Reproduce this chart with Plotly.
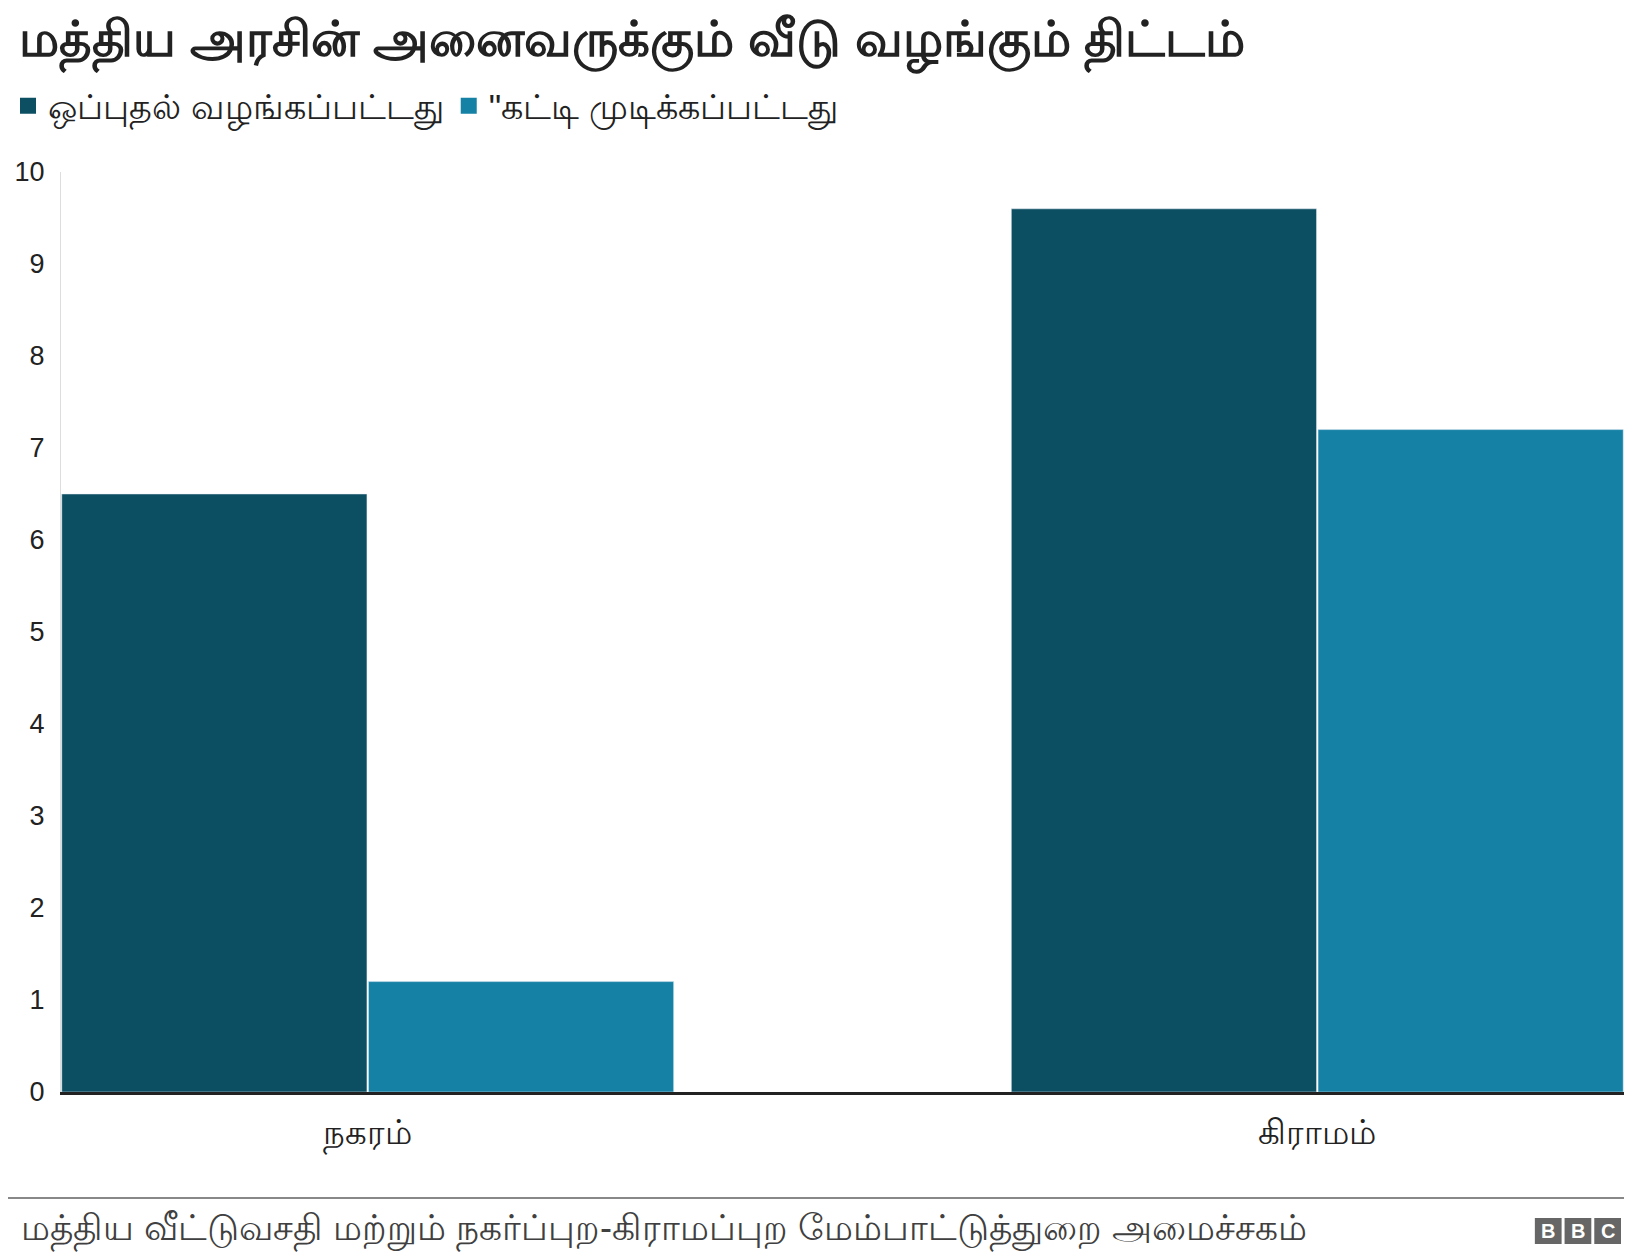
import plotly.graph_objects as go

categories = ["நகரம்", "கிராமம்"]
approved = [6.5, 9.6]
completed = [1.2, 7.2]
series_names = ["ஒப்புதல் வழங்கப்பட்டது", "\"கட்டி முடிக்கப்பட்டது"]
colors = ["#0c4f62", "#1581a5"]
title = "மத்திய அரசின் அனைவருக்கும் வீடு வழங்கும் திட்டம்"
source = "மத்திய வீட்டுவசதி மற்றும் நகர்ப்புற-கிராமப்புற மேம்பாட்டுத்துறை அமைச்சகம்"

W, H = 1616, 1254
L, R, T, B = 38, 0, 164, 170
FONT = "Liberation Sans, Noto Sans, sans-serif"

fig = go.Figure()
for name, vals, c in zip(series_names, [approved, completed], colors):
    fig.add_bar(x=categories, y=vals, name=name, marker_color=c, showlegend=False)
    fig.add_scatter(x=[None], y=[None], mode="markers", name=name,
                    marker=dict(symbol="square", size=26, color=c))

def px(x): return (x - L) / (W - L - R)
def py(y): return (H - B - y) / (H - T - B)

shapes = [dict(type="line", xref="paper", yref="paper", x0=px(-20), x1=px(W), y0=py(1190), y1=py(1190),
               line=dict(color="#888", width=2))]
anns = [
    dict(text=f"<b>{title}</b>", x=px(-6), y=py(34), xref="paper", yref="paper", xanchor="left", yanchor="middle",
         showarrow=False, font=dict(size=50, color="#222")),
    dict(text=source, x=px(-4), y=py(1221), xref="paper", yref="paper", xanchor="left", yanchor="middle",
         showarrow=False, font=dict(size=36, color="#404040")),
]
for i, letter in enumerate("BBC"):
    x0 = 1526 + i * 30
    shapes.append(dict(type="rect", xref="paper", yref="paper", x0=px(x0), x1=px(x0 + 27),
                       y0=py(1236), y1=py(1210), fillcolor="#666", line=dict(width=0), layer="below"))
    anns.append(dict(text=f"<b>{letter}</b>", x=px(x0 + 13.5), y=py(1223), xref="paper", yref="paper",
                     xanchor="center", yanchor="middle",
                     showarrow=False, font=dict(size=20, color="white")))

fig.update_layout(
    width=W, height=H, margin=dict(l=L, r=R, t=T, b=B),
    paper_bgcolor="white", plot_bgcolor="rgba(0,0,0,0)",
    font=dict(family=FONT, size=26, color="#222"),
    barmode="group", bargap=0.354, bargroupgap=0.005,
    legend=dict(orientation="h", x=px(-16), y=py(98), xanchor="left", yanchor="middle",
                font=dict(size=35), itemwidth=30, traceorder="normal"),
    xaxis=dict(showline=True, linecolor="#222", linewidth=3, ticks="", tickfont=dict(size=34),
               ticklabelstandoff=8, range=[-0.323, 1.323]),
    yaxis=dict(range=[0, 10], dtick=1, showgrid=False, zeroline=False, showline=True, linecolor="#ddd",
               linewidth=1, tickfont=dict(size=27), ticklabelstandoff=10),
    shapes=shapes, annotations=anns,
)
fig.write_html("out.html")
